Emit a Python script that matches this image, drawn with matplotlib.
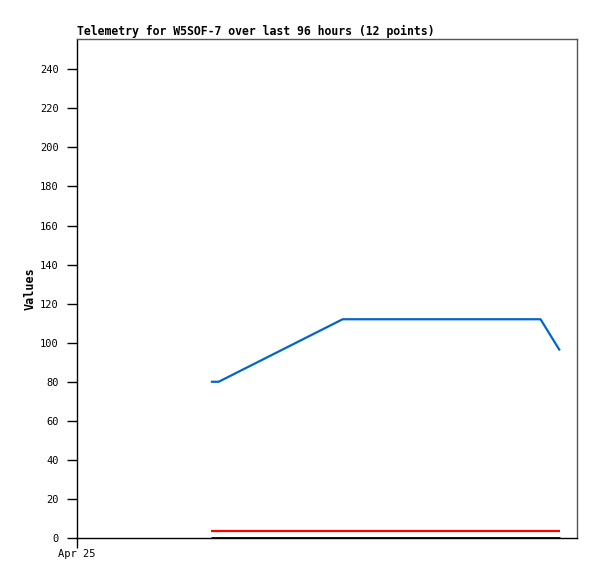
import matplotlib
matplotlib.use("Agg")
import matplotlib.pyplot as plt

# hours since Apr 25 00:00
hours = [25.7, 27.2, 51.0, 89.0, 92.7]
blue_vals = [80, 80, 112, 112, 96]
red_vals = [3.6, 3.6, 3.6, 3.6, 3.6]
black_vals = [0.2, 0.2, 0.2, 0.2, 0.2]
yticks = list(range(0, 241, 20))
xtick_pos = [0]
xtick_labels = ["Apr 25"]
title = "Telemetry for W5SOF-7 over last 96 hours (12 points)"

fig = plt.figure(figsize=(5.97, 5.79), dpi=100)
ax = fig.add_axes([77/597, 41/579, 500/597, 499/579])

ax.plot(hours, red_vals, color="#ff0000", lw=1.6, solid_capstyle="butt")
ax.plot(hours, black_vals, color="#000000", lw=2.0, solid_capstyle="butt")
ax.plot(hours, blue_vals, color="#0066cc", lw=1.6, solid_capstyle="butt")

ax.set_xlim(0, 96)
ax.set_ylim(0, 255.5)
ax.set_yticks(yticks)
ax.set_xticks(xtick_pos)
ax.set_xticklabels(xtick_labels)

mono = "DejaVu Sans Mono"
for lab in ax.get_yticklabels() + ax.get_xticklabels():
    lab.set_fontfamily(mono)
    lab.set_fontsize(7.5)

ax.tick_params(axis="y", direction="out", length=7, width=1, pad=6, colors="black")
ax.tick_params(axis="x", direction="out", length=7, width=1, pad=1, colors="black")

for side in ("top", "right"):
    ax.spines[side].set_color("#555555")
ax.spines["left"].set_color("black")
ax.spines["bottom"].set_color("black")
for s in ax.spines.values():
    s.set_linewidth(1)

ax.set_ylabel("Values", fontfamily=mono, fontweight="bold", fontsize=8.5, labelpad=0)
ax.yaxis.set_label_coords(-40/500, 0.5)
ax.set_title(title, fontfamily=mono, fontweight="bold", fontsize=8.3, loc="left", pad=3)

fig.savefig("out.png", dpi=100)
